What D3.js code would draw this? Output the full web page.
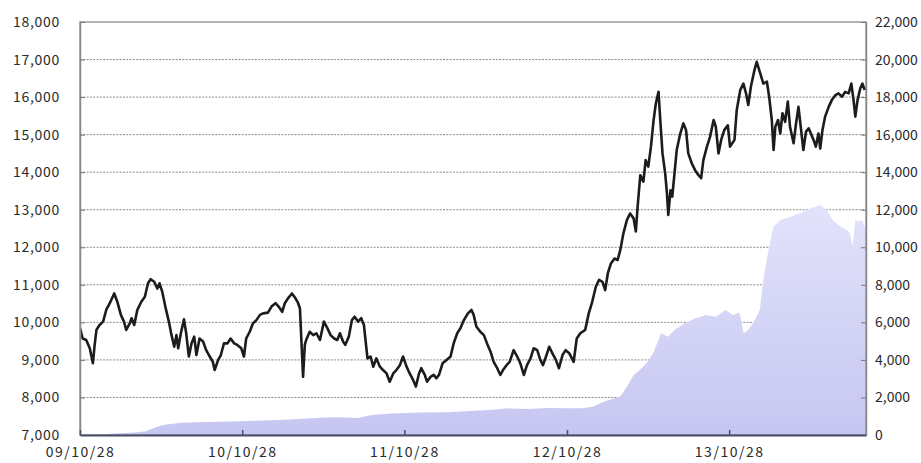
<!DOCTYPE html>
<html><head><meta charset="utf-8">
<script src="https://cdn.jsdelivr.net/npm/d3@7"></script>
<style>
html,body{margin:0;padding:0;background:#fff;}
svg{display:block;}
.tick text{font-family:"Noto Sans CJK JP","Noto Sans",sans-serif;font-size:14px;fill:#2a2a2a;}
</style></head>
<body><svg id="c" width="921" height="463"></svg>
<script>
// ---- data ----
const leftTickValues = [7000,8000,9000,10000,11000,12000,13000,14000,15000,16000,17000,18000];
const rightTickValues = [0,2000,4000,6000,8000,10000,12000,14000,16000,18000,20000,22000];
const gridValues = [8000,9000,10000,11000,12000,13000,14000,15000,16000,17000];
const xTickDates = ["2009-10-28","2010-10-28","2011-10-28","2012-10-28","2013-10-28"];
const xDomain = ["2009-10-28","2014-09-01"];

const priceDates = ["2009-10-28","2009-11-03","2009-11-11","2009-11-19","2009-11-26","2009-11-30","2009-12-04","2009-12-11","2009-12-19","2009-12-26",
"2010-01-03","2010-01-13","2010-01-20","2010-01-28","2010-02-04","2010-02-09","2010-02-17","2010-02-21","2010-02-27","2010-03-06",
"2010-03-15","2010-03-23","2010-03-30","2010-04-05","2010-04-13","2010-04-20","2010-04-25","2010-05-01","2010-05-08","2010-05-16",
"2010-05-22","2010-05-28","2010-06-02","2010-06-06","2010-06-12","2010-06-19","2010-06-24","2010-06-30","2010-07-06","2010-07-12",
"2010-07-17","2010-07-24","2010-08-01","2010-08-08","2010-08-16","2010-08-23","2010-08-27","2010-09-04","2010-09-10","2010-09-17",
"2010-09-25","2010-10-02","2010-10-10","2010-10-17","2010-10-26","2010-11-01","2010-11-06","2010-11-14","2010-11-21","2010-11-29",
"2010-12-07","2010-12-14","2010-12-25","2011-01-02","2011-01-11","2011-01-18","2011-01-26","2011-02-01","2011-02-08","2011-02-17",
"2011-02-25","2011-03-03","2011-03-07","2011-03-14","2011-03-18","2011-03-21","2011-03-29","2011-04-06","2011-04-13","2011-04-21",
"2011-04-30","2011-05-08","2011-05-15","2011-05-23","2011-05-30","2011-06-05","2011-06-12","2011-06-17","2011-06-25","2011-07-02",
"2011-07-08","2011-07-16","2011-07-23","2011-07-29","2011-08-06","2011-08-13","2011-08-19","2011-08-26","2011-09-03","2011-09-10",
"2011-09-18","2011-09-25","2011-10-03","2011-10-10","2011-10-18","2011-10-25","2011-11-02","2011-11-09","2011-11-17","2011-11-23",
"2011-11-30","2011-12-05","2011-12-13","2011-12-18","2011-12-26","2012-01-02","2012-01-08","2012-01-14","2012-01-22","2012-01-31",
"2012-02-09","2012-02-16","2012-02-24","2012-03-02","2012-03-10","2012-03-19","2012-03-27","2012-04-01","2012-04-07","2012-04-16",
"2012-04-24","2012-05-01","2012-05-09","2012-05-16","2012-05-24","2012-05-31","2012-06-06","2012-06-14","2012-06-21","2012-06-30",
"2012-07-08","2012-07-15","2012-07-23","2012-07-30","2012-08-07","2012-08-14","2012-08-22","2012-08-29","2012-09-04","2012-09-12",
"2012-09-18","2012-09-25","2012-10-03","2012-10-10","2012-10-18","2012-10-25","2012-11-02","2012-11-12","2012-11-19","2012-11-27",
"2012-12-08","2012-12-16","2012-12-23","2013-01-01","2013-01-08","2013-01-16","2013-01-22","2013-01-28","2013-02-04","2013-02-12",
"2013-02-19","2013-02-25","2013-03-04","2013-03-12","2013-03-19","2013-03-27","2013-04-01","2013-04-05","2013-04-11","2013-04-18",
"2013-04-23","2013-04-29","2013-05-05","2013-05-11","2013-05-16","2013-05-22","2013-05-26","2013-05-31","2013-06-06","2013-06-10",
"2013-06-13","2013-06-18","2013-06-22","2013-06-27","2013-07-02","2013-07-10","2013-07-17","2013-07-23","2013-07-28","2013-08-05",
"2013-08-12","2013-08-20","2013-08-26","2013-08-31","2013-09-08","2013-09-15","2013-09-23","2013-09-28","2013-10-04","2013-10-10",
"2013-10-17","2013-10-25","2013-10-30","2013-11-09","2013-11-14","2013-11-22","2013-11-29","2013-12-05","2013-12-10","2013-12-16",
"2013-12-24","2013-12-29","2014-01-06","2014-01-13","2014-01-21","2014-01-26","2014-02-01","2014-02-05","2014-02-09","2014-02-15",
"2014-02-20","2014-02-25","2014-03-03","2014-03-09","2014-03-14","2014-03-22","2014-03-27","2014-04-02","2014-04-08","2014-04-13",
"2014-04-19","2014-04-25","2014-05-06","2014-05-11","2014-05-17","2014-05-21","2014-05-26","2014-06-01","2014-06-09","2014-06-16",
"2014-06-24","2014-07-01","2014-07-09","2014-07-16","2014-07-24","2014-07-30","2014-08-04","2014-08-08","2014-08-13","2014-08-19",
"2014-08-24","2014-08-29"];
const priceValues = [9850,9570,9530,9310,8910,9400,9800,9930,10020,10330,
10510,10770,10550,10200,10020,9800,9970,10110,9930,10330,
10550,10680,11040,11150,11080,10900,11040,10820,10420,10020,
9660,9350,9660,9310,9710,10080,9710,9090,9440,9620,
9130,9570,9490,9260,9090,8950,8730,9000,9130,9440,
9440,9570,9440,9400,9310,9090,9570,9750,9970,10060,
10200,10240,10260,10420,10510,10420,10280,10510,10640,10770,
10640,10510,10370,8550,9400,9530,9750,9660,9710,9530,
10020,9840,9660,9570,9530,9710,9490,9400,9620,10060,
10150,10020,10110,9930,9040,9090,8820,9040,8820,8730,
8640,8420,8640,8730,8860,9090,8820,8640,8460,8290,
8640,8780,8600,8420,8550,8600,8510,8600,8910,9000,
9090,9440,9710,9840,10060,10240,10330,10200,9890,9750,
9660,9440,9220,8950,8780,8600,8730,8860,8950,9260,
9090,8910,8600,8860,9040,9310,9260,9000,8860,9130,
9350,9180,9000,8780,9130,9260,9180,8950,9570,9710,
9800,10240,10510,10950,11130,11080,10860,11310,11570,11700,
11660,11930,12370,12730,12900,12770,12420,13080,13920,13750,
14320,14150,14680,15390,15830,16140,15390,14500,13970,13440,
12860,13520,13350,13970,14590,15030,15300,15120,14500,14230,
14060,13920,13840,14320,14680,14940,15390,15210,14500,14860,
15120,15250,14680,14860,15650,16190,16360,16100,15790,16280,
16720,16940,16630,16360,16410,16010,15390,14590,15210,15390,
15030,15570,15340,15880,15210,14770,15250,15740,15120,14590,
15080,15170,14860,14680,15030,14630,15120,15480,15740,15920,
16050,16100,16010,16140,16100,16360,15920,15480,15920,16230,
16360,16190];

const assetDates = ["2009-10-28","2009-12-10","2010-01-05","2010-03-01","2010-03-25","2010-04-20","2010-05-10","2010-06-15","2010-08-01","2010-10-01",
"2010-12-01","2011-02-01","2011-04-01","2011-05-01","2011-06-01","2011-07-15","2011-08-15","2011-10-01","2011-12-01","2012-02-01",
"2012-04-01","2012-05-15","2012-06-15","2012-08-01","2012-09-15","2012-10-28","2012-12-01","2012-12-25","2013-01-20","2013-02-10",
"2013-02-25","2013-03-12","2013-03-27","2013-04-10","2013-04-25","2013-05-10","2013-05-22","2013-05-28","2013-06-12","2013-06-27",
"2013-07-20","2013-08-12","2013-09-05","2013-09-28","2013-10-20","2013-11-05","2013-11-20","2013-11-30","2013-12-10","2013-12-25",
"2014-01-05","2014-01-12","2014-01-19","2014-01-26","2014-02-05","2014-02-20","2014-03-15","2014-04-05","2014-04-28","2014-05-20",
"2014-06-05","2014-06-18","2014-07-05","2014-07-20","2014-07-27","2014-08-02","2014-08-08","2014-08-16","2014-08-24","2014-09-01"];
const assetValues = [0,0,60,130,200,440,560,650,690,720,
760,810,890,930,950,900,1060,1140,1200,1210,
1290,1350,1420,1380,1440,1420,1420,1500,1780,1950,
2050,2570,3200,3460,3820,4350,5060,5420,5240,5590,
5950,6210,6390,6300,6660,6390,6530,5420,5590,6130,
6660,8080,9150,10030,11100,11450,11630,11810,12070,12250,
11990,11450,11100,10920,10740,10030,11450,11360,11450,10900];

// ---- drawing ----
const parse = d3.timeParse("%Y-%m-%d");
const svg = d3.select("#c");
const L = 80, R = 866, T = 22, B = 435;

const x = d3.scaleTime().domain(xDomain.map(parse)).range([L, R]);
const yL = d3.scaleLinear().domain([7000, 18000]).range([B, T]);
const yR = d3.scaleLinear().domain([0, 22000]).range([B, T]);

const defs = svg.append("defs");
const grad = defs.append("linearGradient").attr("id","ag")
  .attr("gradientUnits","userSpaceOnUse").attr("x1",0).attr("x2",0).attr("y1",200).attr("y2",B);
grad.append("stop").attr("offset","0%").attr("stop-color","#e3e3fb");
grad.append("stop").attr("offset","100%").attr("stop-color","#c6c6f2");
defs.append("clipPath").attr("id","clip").append("rect").attr("x",L).attr("y",T).attr("width",R-L).attr("height",B-T);

// gridlines
svg.append("g").selectAll("line").data(gridValues).join("line")
  .attr("x1", L).attr("x2", R).attr("y1", d => yL(d)).attr("y2", d => yL(d))
  .attr("stroke", "#8a8a8a").attr("stroke-width", 1).attr("stroke-dasharray", "2,1.3");

// area
const assets = assetDates.map((d,i) => ({date: parse(d), v: assetValues[i]}));
svg.append("path").datum(assets)
  .attr("clip-path","url(#clip)")
  .attr("fill","url(#ag)")
  .attr("d", d3.area().x(d => x(d.date)).y0(yR(0)).y1(d => yR(d.v)));

// frame
svg.append("rect").attr("x",L).attr("y",T).attr("width",R-L).attr("height",B-T)
  .attr("fill","none").attr("stroke","#9a9a9a").attr("stroke-width",1.5);

// line
const prices = priceDates.map((d,i) => ({date: parse(d), v: priceValues[i]}));
svg.append("path").datum(prices)
  .attr("clip-path","url(#clip)")
  .attr("fill","none").attr("stroke","#1c1c1c").attr("stroke-width",2.6)
  .attr("stroke-linejoin","round")
  .attr("d", d3.line().x(d => x(d.date)).y(d => yL(d.v)));

// axes
const fmt = d3.format(",");
const gl = svg.append("g").attr("transform",`translate(${L},0)`)
  .call(d3.axisLeft(yL).tickValues(leftTickValues).tickFormat(fmt).tickSizeInner(-5).tickSizeOuter(0).tickPadding(20));
gl.select(".domain").attr("stroke","#8a8a8a").attr("stroke-width",1.5);
gl.selectAll(".tick line").attr("stroke","#777");
gl.selectAll(".tick text").attr("letter-spacing","0.7px");

const gr = svg.append("g").attr("transform",`translate(${R},0)`)
  .call(d3.axisRight(yR).tickValues(rightTickValues).tickFormat(fmt).tickSizeInner(-5).tickSizeOuter(0).tickPadding(9));
gr.select(".domain").attr("stroke","#8a8a8a").attr("stroke-width",1.5);
gr.selectAll(".tick line").attr("stroke","#777");
gr.selectAll(".tick text").attr("letter-spacing","0px");

const gb = svg.append("g").attr("transform",`translate(0,${B})`)
  .call(d3.axisBottom(x).tickValues(xTickDates.map(parse)).tickFormat(d3.timeFormat("%y/%m/%d")).tickSizeInner(-5).tickSizeOuter(0).tickPadding(12));
gb.select(".domain").attr("stroke","#4a4d66").attr("stroke-width",2);
gb.selectAll(".tick line").attr("stroke","#4a4d66").attr("stroke-width",1.5);
gb.selectAll(".tick text").attr("letter-spacing","1.5px");
</script></body></html>
